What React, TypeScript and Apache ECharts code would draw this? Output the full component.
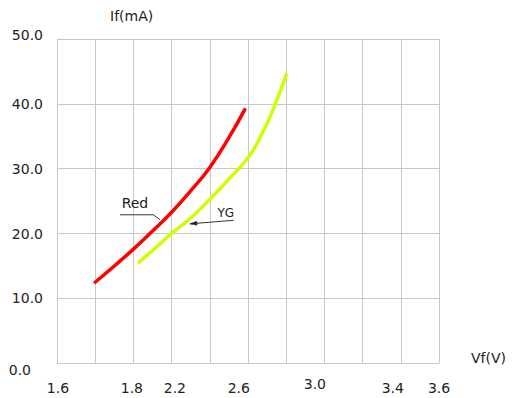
import React, { useEffect, useRef } from "react";
import * as echarts from "echarts";

// Forward voltage (V) vs forward current (mA)
const redVf = [1.8, 1.9, 2.0, 2.1, 2.2, 2.3, 2.4, 2.5, 2.583];
const redIf = [12.5, 15.0, 17.6, 20.4, 23.3, 26.6, 30.2, 34.8, 39.1];
const ygVf = [2.03, 2.1, 2.2, 2.3, 2.4, 2.5, 2.6, 2.66, 2.73, 2.8];
const ygIf = [15.6, 17.4, 20.0, 22.4, 25.3, 28.4, 31.7, 34.6, 39.0, 44.5];

// x tick labels as printed on the original sheet, and where they sit on the axis
const xTickLabels = ["1.6", "1.8", "2.2", "2.6", "3.0", "3.4", "3.6"];
const xTickPositions = [1.605, 1.992, 2.217, 2.552, 2.95, 3.358, 3.6];

// annotation anchors in data space
const redLabelAt = [2.008, 24.66];
const redLeader = [[1.93, 22.9], [2.104, 22.9], [2.139, 22.15]];
const ygLabelAt = [2.484, 23.1];
const ygLeader = [[2.525, 22.05], [2.296, 21.5]];

const FONT = "DejaVu Sans";
const TEXT = "#222";
const GRID = "#c8c8c8";

export default function App() {
  const ref = useRef<HTMLDivElement>(null);
  useEffect(() => {
    document.body.style.margin = "0";
    const chart = echarts.init(ref.current!, null, { renderer: "svg" });
    const option: any = {
      animation: false,
      backgroundColor: "#fff",
      grid: { left: 57, top: 39, width: 382, height: 324.3, containLabel: false },
      xAxis: [
        {
          type: "value",
          min: 1.6,
          max: 3.6,
          interval: 0.2,
          axisLine: { show: true, lineStyle: { color: GRID, width: 1 } },
          axisTick: { show: false },
          axisLabel: { show: false },
          splitLine: { show: true, lineStyle: { color: GRID, width: 1 } },
        },
        {
          type: "value",
          min: 1.6,
          max: 3.6,
          position: "bottom",
          offset: 0,
          axisLine: { show: false },
          axisTick: { show: false },
          splitLine: { show: false },
          axisLabel: {
            show: true,
            customValues: xTickPositions,
            margin: 13,
            fontFamily: FONT,
            fontSize: 14,
            color: TEXT,
            formatter: (v: number) => {
              let best = 0;
              for (let i = 1; i < xTickPositions.length; i++) {
                if (Math.abs(xTickPositions[i] - v) < Math.abs(xTickPositions[best] - v)) best = i;
              }
              const t = xTickLabels[best];
              return t === "3.0" ? `{u|${t}}` : `{n|${t}}`;
            },
            rich: {
              n: { fontFamily: FONT, fontSize: 14, color: TEXT, padding: [5, 0, 0, 0] },
              u: { fontFamily: FONT, fontSize: 14, color: TEXT, padding: [1, 0, 0, 0] },
            },
          },
        },
      ],
      yAxis: {
        type: "value",
        min: 0,
        max: 50,
        interval: 10,
        axisLine: { show: true, lineStyle: { color: GRID, width: 1 } },
        axisTick: { show: false },
        splitLine: { show: true, lineStyle: { color: GRID, width: 1 } },
        axisLabel: {
          margin: 14,
          fontFamily: FONT,
          fontSize: 14,
          color: TEXT,
          formatter: (v: number) => {
            const t = v.toFixed(1);
            if (v === 0) return `{z|${t}}`;
            if (v === 50) return `{t|${t}}`;
            return `{n|${t}}`;
          },
          rich: {
            n: { fontFamily: FONT, fontSize: 14, color: TEXT },
            z: { fontFamily: FONT, fontSize: 14, color: TEXT, padding: [14, 12, 0, 0] },
            t: { fontFamily: FONT, fontSize: 14, color: TEXT, padding: [0, 0, 8, 0] },
          },
        },
      },
      series: [
        {
          name: "Red",
          type: "line",
          xAxisIndex: 0,
          smooth: 0.5,
          symbol: "none",
          lineStyle: { color: "#ff0000", width: 3.5, cap: "round", join: "round" },
          data: redVf.map((x, i) => [x, redIf[i]]),
        },
        {
          name: "YG",
          type: "line",
          xAxisIndex: 0,
          smooth: 0.5,
          symbol: "none",
          lineStyle: { color: "#ccff00", width: 3.5, cap: "round", join: "round" },
          data: ygVf.map((x, i) => [x, ygIf[i]]),
        },
      ],
    };
    chart.setOption(option);

    const px = (p: number[]) => chart.convertToPixel({ gridIndex: 0 }, p) as number[];
    const rl = px(redLabelAt);
    const yl = px(ygLabelAt);
    const rLine = redLeader.map(px);
    const yLine = ygLeader.map(px);
    const tip = yLine[1];
    const from = yLine[0];
    const dx = from[0] - tip[0];
    const dy = from[1] - tip[1];
    const len = Math.hypot(dx, dy);
    const ux = dx / len, uy = dy / len;
    const al = 7, aw = 2;
    const arrow = [
      tip,
      [tip[0] + ux * al - uy * aw, tip[1] + uy * al + ux * aw],
      [tip[0] + ux * al + uy * aw, tip[1] + uy * al - ux * aw],
    ];

    chart.setOption({
      graphic: [
        {
          type: "text",
          left: 110,
          top: 9,
          style: { text: "If(mA)", fontFamily: FONT, fontSize: 14, fill: TEXT },
        },
        {
          type: "text",
          left: 471,
          top: 351,
          style: { text: "Vf(V)", fontFamily: FONT, fontSize: 14, fill: TEXT },
        },
        {
          type: "text",
          x: rl[0],
          y: rl[1],
          style: {
            text: "Red",
            fontFamily: FONT,
            fontSize: 14,
            fill: TEXT,
            align: "center",
            verticalAlign: "middle",
          },
        },
        {
          type: "polyline",
          shape: { points: rLine },
          style: { stroke: "#333", lineWidth: 1, fill: "none" },
        },
        {
          type: "text",
          x: yl[0],
          y: yl[1],
          style: {
            text: "YG",
            fontFamily: FONT,
            fontSize: 12,
            fill: TEXT,
            align: "center",
            verticalAlign: "middle",
          },
        },
        {
          type: "polyline",
          shape: { points: yLine },
          style: { stroke: "#333", lineWidth: 1, fill: "none" },
        },
        {
          type: "polygon",
          shape: { points: arrow },
          style: { fill: "#222", stroke: "#222", lineWidth: 0.5 },
        },
      ],
    });

    return () => chart.dispose();
  }, []);
  return <div ref={ref} style={{ width: 514, height: 398 }} />;
}
